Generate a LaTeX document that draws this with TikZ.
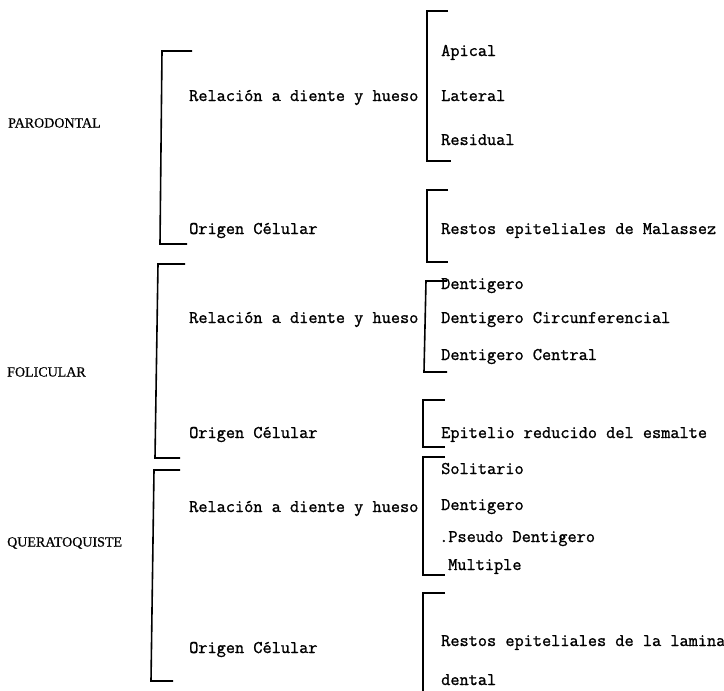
\documentclass[tikz,border=0pt]{standalone}
\usepackage{fontspec}
\setmainfont{Liberation Serif}
\newfontfamily\capfam{Liberation Serif}[FakeBold=0.6]
\newfontfamily\monofam{Latin Modern Mono}[FakeBold=1.2]
\begin{document}
\begin{tikzpicture}[x=1pt,y=-1pt,
 cat/.style={anchor=west,inner sep=0pt,text height=9pt,text depth=0pt,font=\capfam\fontsize{14}{16}\selectfont},
 item/.style={anchor=west,inner sep=0pt,text height=10pt,text depth=0pt,font=\monofam\fontsize{17.8}{20}\selectfont},
 brk/.style={line width=1.6pt,line join=miter}]
\useasboundingbox (0,0) rectangle (724,691);
% categories
\node[cat] (paro) at (8,123) {PARODONTAL};
\node[cat] (foli) at (7,372) {FOLICULAR};
\node[cat] (quer) at (7,542) {QUERATOQUISTE};
% middle level
\node[item] (r1) at (189,96) {Relación a diente y hueso};
\node[item] (o1) at (189,229) {Origen Célular};
\node[item] (r2) at (189,318) {Relación a diente y hueso};
\node[item] (o2) at (189,433) {Origen Célular};
\node[item] (r3) at (189,507) {Relación a diente y hueso};
\node[item] (o3) at (189,648) {Origen Célular};
% right level
\node[item] (apic) at (441,51) {Apical};
\node[item] (late) at (441,96) {Lateral};
\node[item] (resi) at (441,140) {Residual};
\node[item] (mala) at (441,229) {Restos epiteliales de Malassez};
\node[item] (den1) at (441,284) {Dentigero};
\node[item] (denc) at (441,318) {Dentigero Circunferencial};
\node[item] (dent) at (441,355) {Dentigero Central};
\node[item] (epit) at (441,433) {Epitelio reducido del esmalte};
\node[item] (soli) at (441,469) {Solitario};
\node[item] (den2) at (441,505) {Dentigero};
\node[item] (pseu) at (439,537) {.Pseudo Dentigero};
\node[item] (mult) at (448,565) {Multiple};
\node[item] (lam1) at (441,641) {Restos epiteliales de la lamina};
\node[item] (lam2) at (441,680) {dental};
% big brackets
\draw[brk] (192,51) -- (162,51) -- (160,244) -- (187,244);
\draw[brk] (185,264) -- (158,264) -- (155,458) -- (180,458);
\draw[brk] (180,470) -- (154,470) -- (151,681) -- (173,681);
% small brackets
\draw[brk] (448,11) -- (427,11) -- (427,161) -- (451,161);
\draw[brk] (448,190) -- (427,190) -- (427,262) -- (448,262);
\draw[brk] (447,281) -- (426,281) -- (424,372) -- (447,372);
\draw[brk] (445,400) -- (423,400) -- (423,447) -- (445,447);
\draw[brk] (445,457) -- (423,457) -- (423,575) -- (445,575);
\draw[brk] (445,593) -- (423,593) -- (423,691);
\end{tikzpicture}
\end{document}
